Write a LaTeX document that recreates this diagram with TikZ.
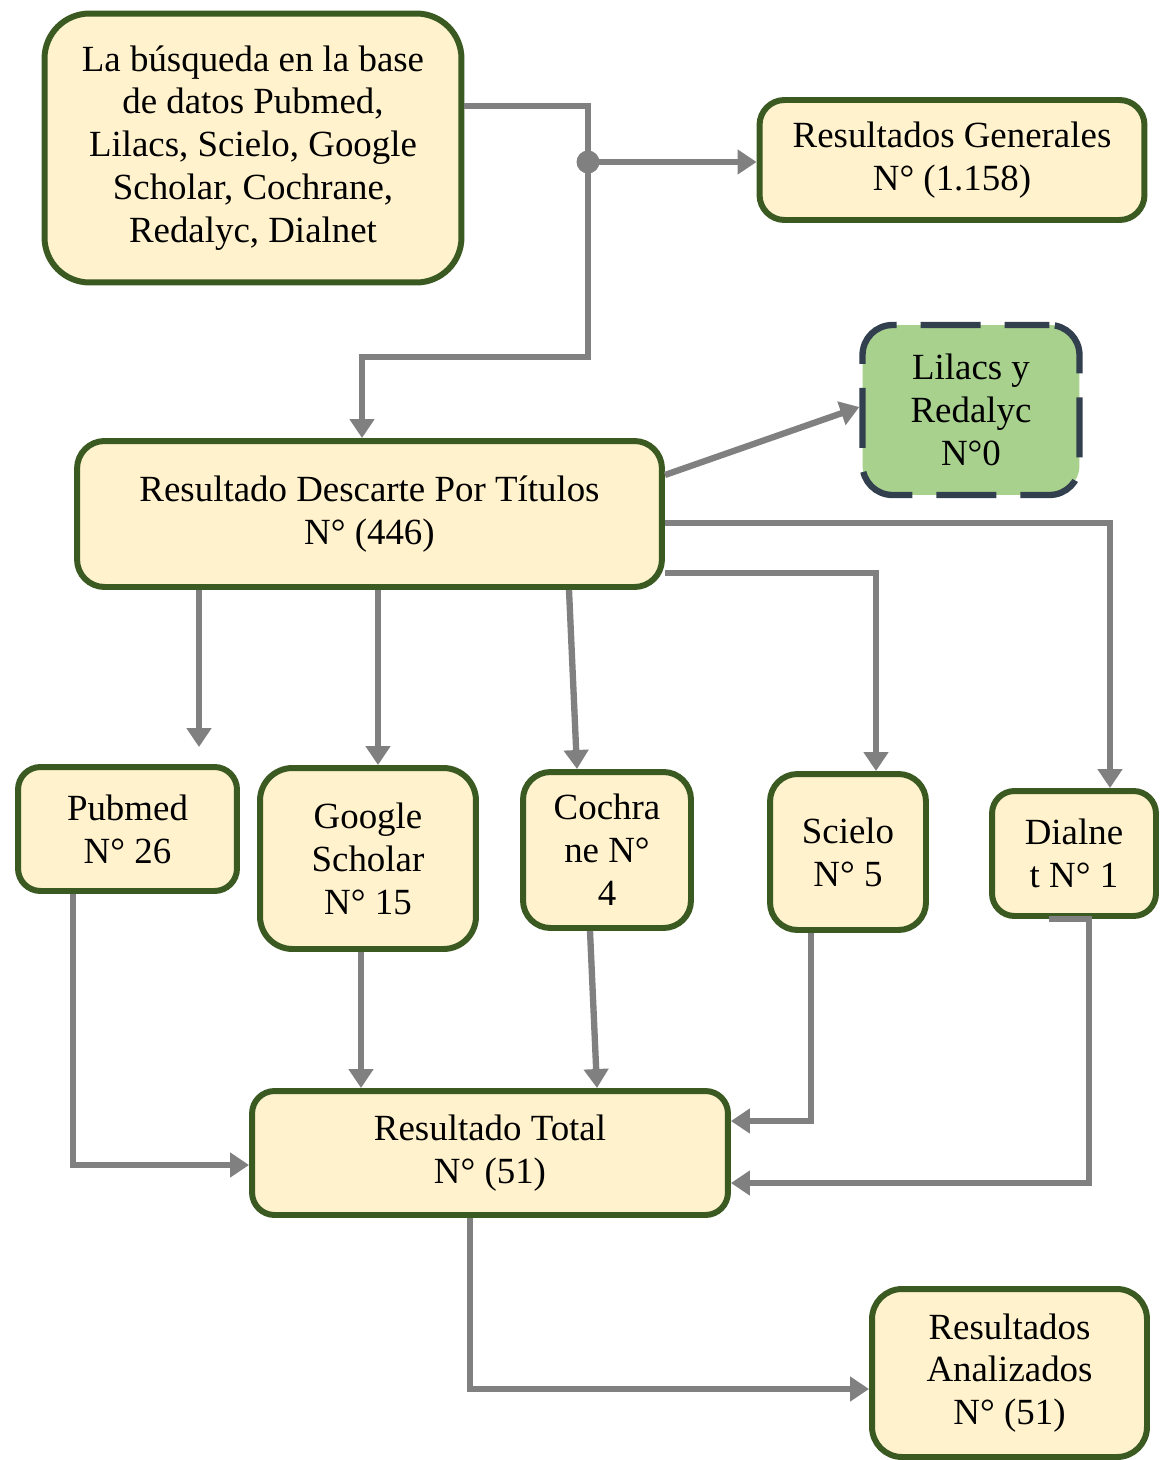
\documentclass[tikz,border=0pt]{standalone}
\usepackage{fontspec}
\setmainfont{Liberation Serif}
\usetikzlibrary{arrows.meta}

\definecolor{cajafondo}{HTML}{FFF2CC}
\definecolor{cajaborde}{HTML}{3A5A22}
\definecolor{verdefondo}{HTML}{A9D18E}
\definecolor{verdeborde}{HTML}{323F4F}
\definecolor{gris}{HTML}{808080}

\tikzset{
  caja/.style={draw=cajaborde, fill=cajafondo, line width=3.4pt, align=center,
    inner sep=0pt, font=\fontsize{21}{24.4}\selectfont},
  flecha/.style={draw=gris, line width=3.6pt,
    -{Triangle[length=0.38cm,width=0.48cm]}},
  linea/.style={draw=gris, line width=3.6pt}
}

\begin{document}
\begin{tikzpicture}[x=0.02cm,y=-0.02cm]
      \useasboundingbox (0,0) rectangle (1163,1460);
      \node[caja, rounded corners=0.9cm, minimum width=8.34cm, minimum height=5.38cm]
        (busq) at (253,148) {La búsqueda en la base\\de datos Pubmed,\\Lilacs, Scielo, Google\\Scholar, Cochrane,\\Redalyc, Dialnet};
      \node[caja, rounded corners=0.5cm, minimum width=7.70cm, minimum height=2.40cm]
        (gen) at (952,160) {Resultados Generales\\N° (1.158)};
      \node[draw=verdeborde, fill=verdefondo, line width=3.6pt, dash pattern=on 1.2cm off 0.48cm,
        dash phase=0.3cm, rounded corners=0.6cm, align=center, inner sep=0pt,
        font=\fontsize{21}{24.4}\selectfont, minimum width=4.34cm, minimum height=3.40cm]
        (lil) at (971,410) {Lilacs y\\Redalyc\\N°0};
      \node[caja, rounded corners=0.55cm, minimum width=11.70cm, minimum height=2.92cm]
        (desc) at (369.5,514) {Resultado Descarte Por Títulos\\N° (446)};
      \node[caja, rounded corners=0.45cm, minimum width=4.38cm, minimum height=2.48cm]
        (pub) at (127.5,829) {Pubmed\\N° 26};
      \node[caja, rounded corners=0.65cm, minimum width=4.32cm, minimum height=3.62cm]
        (goo) at (368,858.5) {Google\\Scholar\\N° 15};
      \node[caja, rounded corners=0.55cm, minimum width=3.36cm, minimum height=3.12cm]
        (coch) at (607,850) {Cochra\\ne N°\\4};
      \node[caja, rounded corners=0.55cm, minimum width=3.12cm, minimum height=3.12cm]
        (sci) at (848,852) {Scielo\\N° 5};
      \node[caja, rounded corners=0.45cm, minimum width=3.28cm, minimum height=2.50cm]
        (dial) at (1074,853.5) {Dialne\\t N° 1};
      \node[caja, rounded corners=0.45cm, minimum width=9.52cm, minimum height=2.48cm]
        (tot) at (490,1153) {Resultado Total\\N° (51)};
      \node[caja, rounded corners=0.6cm, minimum width=5.50cm, minimum height=3.36cm]
        (anal) at (1009.5,1373) {Resultados\\Analizados\\N° (51)};
      \coordinate (punto) at (588,162);
      \begin{scope}[linea]
        \draw (busq.east |- 0,106) -| (punto);
        \draw[flecha] (punto) -- (gen.west |- punto);
        \draw[flecha] (punto) -- (punto |- 0,357) -| (desc.north -| 362,0);
        \fill[gris, draw=none] (punto) circle (0.23cm);
        \draw[flecha] (desc.east |- 0,475) -- (lil.west |- 0,407);
        \draw[flecha] (desc.east |- 0,523) -| (dial.north -| 1110,0);
        \draw[flecha] (desc.east |- 0,573) -| (sci.north -| 876,0);
        \draw[flecha, shorten >=0.34cm] (desc.south -| 199,0) -- (pub.north -| 199,0);
        \draw[flecha] (desc.south -| 378,0) -- (goo.north -| 378,0);
        \draw[flecha] (desc.south -| 569,0) -- (coch.north -| 577,0);
        \draw[flecha] (pub.south -| 73,0) |- (tot.west |- 0,1165);
        \draw[flecha] (goo.south -| 361,0) -- (tot.north -| 361,0);
        \draw[flecha] (coch.south -| 590,0) -- (tot.north -| 597,0);
        \draw[flecha] (sci.south -| 811,0) |- (tot.east |- 0,1121);
        \draw[flecha] (dial.south -| 1049,0) -- (dial.south -| 1089,0) |- (tot.east |- 0,1183);
        \draw[flecha] (tot.south -| 470,0) |- (anal.west |- 0,1389);
      \end{scope}
    \end{tikzpicture}
\end{document}
